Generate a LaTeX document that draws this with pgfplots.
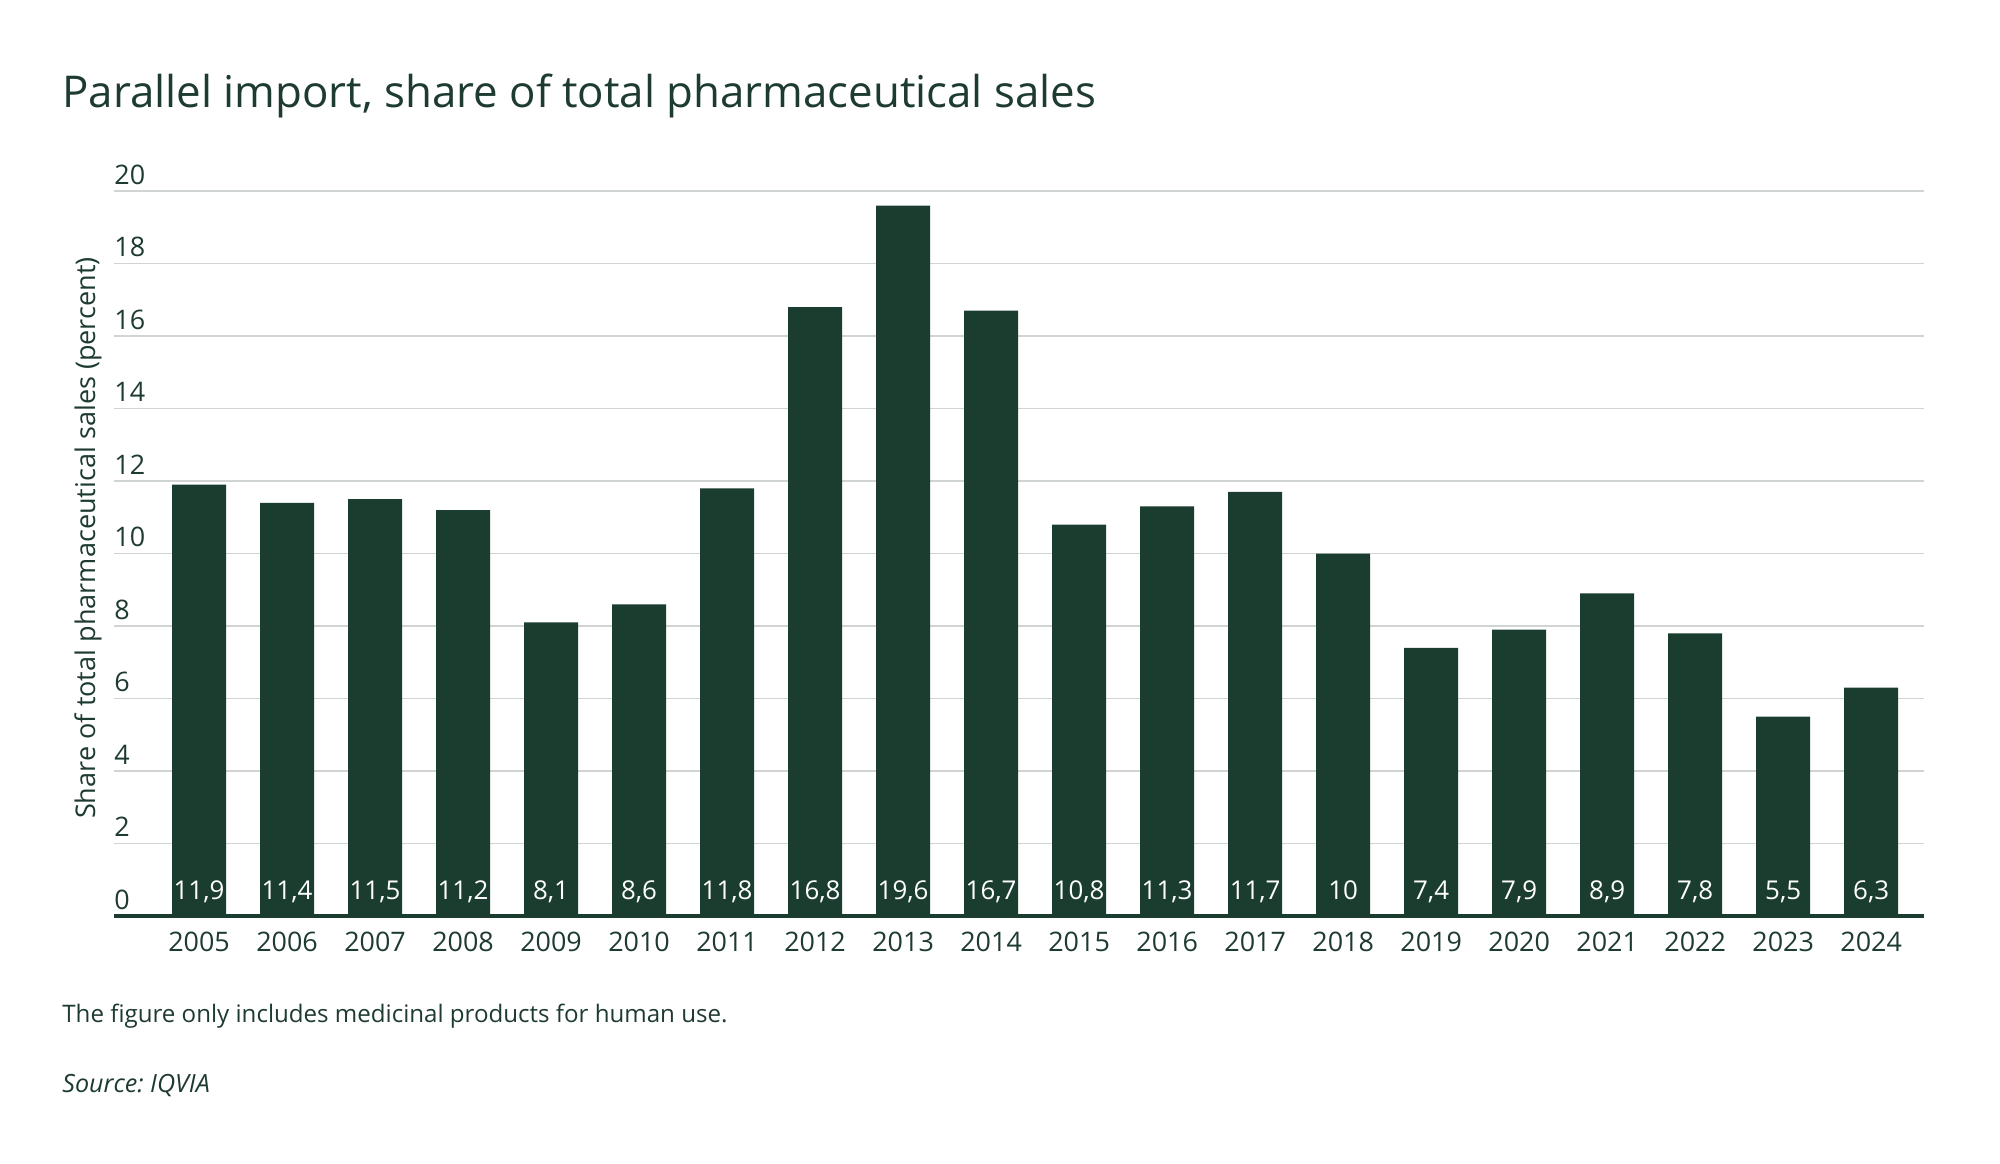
\documentclass[border=0pt]{standalone}
\usepackage{fontspec}
\setmainfont{Open Sans}
\usepackage{pgfplots}
\pgfplotsset{compat=1.18}
\definecolor{bargreen}{HTML}{1B3D2F}
\definecolor{txtgreen}{HTML}{1E3B2F}
\definecolor{gridgray}{HTML}{D0D5D3}
\begin{document}
\frenchspacing
\begin{tikzpicture}
\useasboundingbox (0,0) rectangle (1000bp,-582bp);
\node[anchor=base west, inner sep=0pt, font=\fontsize{22}{26}\selectfont, text=txtgreen] at (31bp,-53.5bp) {Parallel import, share of total pharmaceutical sales};
\node[rotate=90, anchor=base, inner sep=0pt, font=\fontsize{13.6}{16}\selectfont, text=txtgreen] at (47.5bp,-269bp) {Share of total pharmaceutical sales (percent)};
\node[anchor=base west, inner sep=0pt, font=\fontsize{12.1}{15}\selectfont, text=txtgreen] at (31bp,-511bp) {The figure only includes medicinal products for human use.};
\node[anchor=base west, inner sep=0pt, font=\fontsize{12.6}{15}\selectfont\itshape, text=txtgreen] at (31bp,-546bp) {Source: IQVIA};
\begin{axis}[
  at={(57bp,-458bp)}, anchor=south west,
  scale only axis, width=905bp, height=362.5bp,
  ybar, bar width=27bp,
  xmin=-0.966, xmax=19.6, ymin=0, ymax=20,
  ytick={0,2,...,20},
  xtick={0,...,19},
  xticklabels={2005,2006,2007,2008,2009,2010,2011,2012,2013,2014,2015,2016,2017,2018,2019,2020,2021,2022,2023,2024},
  axis x line*=bottom, axis y line*=left,
  y axis line style={draw=none},
  x axis line style={draw=bargreen, line width=2bp, -},
  ymajorgrids, grid style={draw=gridgray, line width=0.8bp},
  major tick length=0pt,
  /pgf/number format/assume math mode=true,
  /pgf/number format/use comma,
  /pgf/number format/fixed,
  /pgf/number format/precision=1,
  tick label style={font=\fontsize{13.5}{15}\selectfont, text=txtgreen},
  yticklabel style={anchor=base west, inner sep=0pt, xshift=0pt, yshift=3.5bp},
  xticklabel style={anchor=base, inner sep=0pt, yshift=-17.5bp},
  nodes near coords,
  point meta=y,
  visualization depends on={y \as \rawy},
  every node near coord/.append style={anchor=base, inner sep=0pt, text=white, font=\fontsize{13}{15}\selectfont, shift={(axis direction cs:0,-\rawy)}, yshift=8.5bp},
]
\addplot[fill=bargreen, draw=none] coordinates {
(0,11.9) (1,11.4) (2,11.5) (3,11.2) (4,8.1) (5,8.6) (6,11.8) (7,16.8) (8,19.6) (9,16.7)
(10,10.8) (11,11.3) (12,11.7) (13,10) (14,7.4) (15,7.9) (16,8.9) (17,7.8) (18,5.5) (19,6.3)};
\end{axis}
\end{tikzpicture}
\end{document}
